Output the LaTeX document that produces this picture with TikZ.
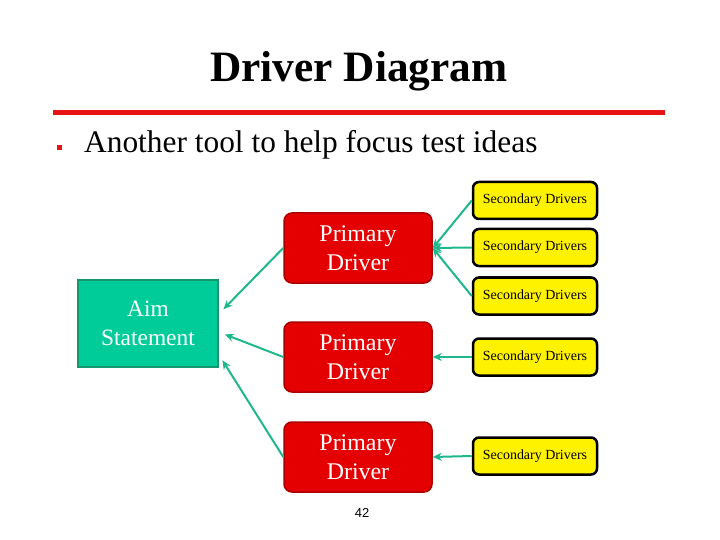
\documentclass[tikz,border=0pt]{standalone}
\usepackage{fontspec}
\setmainfont{Liberation Serif}
\newfontfamily\numfont{Liberation Sans}
\usepackage{tikz}
\usetikzlibrary{arrows.meta}

\definecolor{aimgreen}{RGB}{0,204,153}
\definecolor{aimedge}{RGB}{20,150,110}
\definecolor{linkgreen}{RGB}{30,184,140}
\definecolor{drvred}{RGB}{228,0,0}
\definecolor{drvedge}{RGB}{170,0,0}
\definecolor{rulered}{RGB}{230,20,20}

\begin{document}
\begin{tikzpicture}[x=1bp, y=-1bp,
            aim/.style={rectangle, draw=aimedge, line width=2.5bp, fill=aimgreen, text=white, minimum width=140bp, minimum height=87bp, align=center, font=\fontsize{23.5}{29}\selectfont},
            primary/.style={rectangle, draw=drvedge, line width=1.5bp, fill=drvred, text=white, minimum width=148bp, minimum height=70bp, align=center, rounded corners=8bp, font=\fontsize{24}{29}\selectfont},
            secondary/.style={rectangle, draw=black, line width=2.5bp, fill=yellow, minimum width=124bp, minimum height=37bp, rounded corners=6bp, font=\fontsize{14}{16}\selectfont},
            arrow/.style={-{Stealth[length=9bp, width=8bp]}, line width=2bp, color=linkgreen}
        ]
            \useasboundingbox (0,0) rectangle (720,540);

            % heading
            \node[font=\fontsize{43.5}{50}\selectfont\bfseries] (title) at (359,71) {Driver Diagram};
            \draw[rulered, line width=5bp] (53,113) -- (665,113);
            \node[fill=rulered, minimum size=5bp, inner sep=0pt] (bullet) at (59,148) {};
            \node[anchor=west, inner sep=0pt, font=\fontsize{31.5}{36}\selectfont] (point) at (84,145) {Another tool to help focus test ideas};

            % boxes
            \node[aim] (aim) at (148,323.5) {Aim\\Statement};
            \node[primary] (pd1) at (358,248) {Primary\\Driver};
            \node[primary] (pd2) at (358,357) {Primary\\Driver};
            \node[primary] (pd3) at (358,457) {Primary\\Driver};
            \node[secondary] (sd1) at (535,200.5) {Secondary Drivers};
            \node[secondary] (sd2) at (535,247.5) {Secondary Drivers};
            \node[secondary] (sd3) at (535,296) {Secondary Drivers};
            \node[secondary] (sd4) at (535,357) {Secondary Drivers};
            \node[secondary] (sd5) at (535,456) {Secondary Drivers};

            \node[font=\numfont\fontsize{13}{15}\selectfont] (page) at (362,513) {42};

            % links
            \draw[arrow] (sd1.west) -- (pd1.east);
            \draw[arrow] (sd2.west) -- (pd1.east);
            \draw[arrow] (sd3.west) -- (pd1.east);
            \draw[arrow] (sd4.west) -- (pd2.east);
            \draw[arrow] (sd5.west) -- (pd3.east);
            \draw[arrow, shorten >=6bp] (pd1.west) -- (aim.8);
            \draw[arrow, shorten >=6bp] (pd2.west) -- (aim.-7);
            \draw[arrow, shorten >=6bp] (pd3.west) -- (aim.-24);
        \end{tikzpicture}
\end{document}
